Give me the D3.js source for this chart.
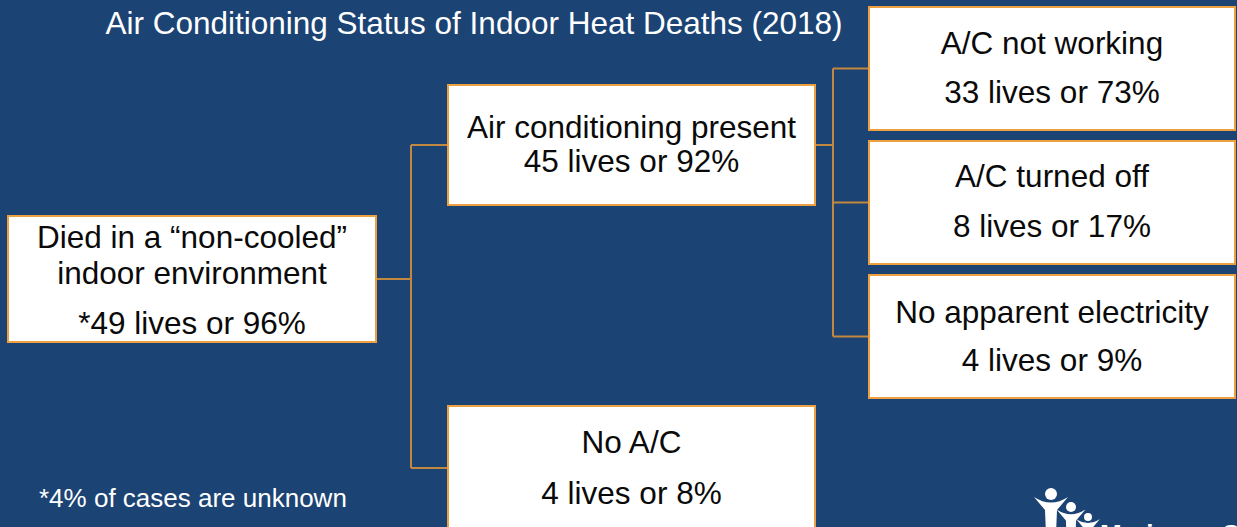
<!DOCTYPE html>
<html><head><meta charset="utf-8">
<script src="https://cdn.jsdelivr.net/npm/d3@7"></script>
<style>html,body{margin:0;padding:0;background:#1b4373;overflow:hidden}</style>
</head><body>
<svg id="c" width="1237" height="527"></svg>
<script>
// ---- data ----
const ids = ["root", "present", "noac", "notworking", "turnedoff", "noelec"];
const parents = [null, "root", "root", "present", "present", "present"];
const categories = [["Died in a \u201cnon-cooled\u201d", "indoor environment"], ["Air conditioning present"], ["No A/C"], ["A/C not working"], ["A/C turned off"], ["No apparent electricity"]];
const lives = [49, 45, 4, 33, 8, 4];
const percents = [96, 92, 8, 73, 17, 9];
const titleText = "Air Conditioning Status of Indoor Heat Deaths (2018)";
const footnote = "*4% of cases are unknown";

// ---- layout ----
const W = 1237, H = 527;
const FONT = "Liberation Sans, Arial, sans-serif";
const svg = d3.select("#c");
svg.append("rect").attr("width", W).attr("height", H).attr("fill", "#1b4373");

const rows = ids.map((id, i) => ({id, parent: parents[i], lines: categories[i], lives: lives[i], pct: percents[i], star: i === 0}));
const root = d3.stratify().id(d => d.id).parentId(d => d.parent)(rows);

const xL = d3.scaleOrdinal().domain([0, 1, 2]).range([8, 448, 869]);
const xW = d3.scaleOrdinal().domain([0, 1, 2]).range([368, 367, 366]);
const yRight = d3.scaleBand().domain(root.children[0].children.map(d => d.id)).range([7, 398]).paddingInner(11 / 134);
const yMid = d3.scaleOrdinal().domain(["present", "noac"]).range([[85, 120], [406, 130]]);
root.each(n => {
  n.bx = xL(n.depth); n.bw = xW(n.depth);
  if (n.depth === 0) { n.by = 216; n.bh = 126; }
  else if (n.depth === 1) { const v = yMid(n.id); n.by = v[0]; n.bh = v[1]; }
  else { n.by = yRight(n.id); n.bh = yRight.bandwidth(); }
});
const anchorY = n => n.id === "root" ? 279 : n.id === "present" ? 145 : n.id === "noac" ? 468 : n.by + n.bh / 2;

const conn = svg.append("g").attr("fill", "none").attr("stroke", "#c2883f").attr("stroke-width", 2);
root.each(n => {
  if (!n.children) return;
  const px = n.bx + n.bw;
  const py = anchorY(n);
  const midX = n.depth === 0 ? 411 : 833;
  const cys = n.children.map(anchorY);
  conn.append("path").attr("d", `M${px},${py}H${midX}`);
  conn.append("path").attr("d", `M${midX},${d3.min(cys)}V${d3.max(cys)}`);
  n.children.forEach((c, i) => conn.append("path").attr("d", `M${midX},${cys[i]}H${c.bx}`));
});

const nodes = svg.append("g").selectAll("g").data(root.descendants()).join("g");
nodes.append("rect")
  .attr("x", d => d.bx).attr("y", d => d.by).attr("width", d => d.bw).attr("height", d => d.bh)
  .attr("fill", "#ffffff").attr("stroke", "#eda03f").attr("stroke-width", 2);

const textBase = {
  root: [248, 284, 334], present: [138, 172], noac: [453, 504],
  notworking: [54, 103], turnedoff: [187, 237], noelec: [323, 371]
};
nodes.each(function (d) {
  const g = d3.select(this);
  const lines = d.data.lines.concat([(d.data.star ? "*" : "") + d.data.lives + " lives or " + d.data.pct + "%"]);
  const ys = textBase[d.id];
  lines.forEach((t, i) => {
    g.append("text").attr("x", d.bx + d.bw / 2).attr("y", ys[i])
      .attr("text-anchor", "middle").attr("font-family", FONT)
      .attr("font-size", 31.5).attr("fill", "#0a0a0a").text(t);
  });
});

svg.append("text").attr("x", 474).attr("y", 34).attr("text-anchor", "middle")
  .attr("font-family", FONT).attr("font-size", 31.5)
  .attr("fill", "#ffffff").text(titleText);
svg.append("text").attr("x", 39).attr("y", 507)
  .attr("font-family", FONT).attr("font-size", 26)
  .attr("fill", "#ffffff").text(footnote);

// logo (partially cut at the bottom edge, as in the reference)
const logo = svg.append("g").attr("fill", "#ffffff");
[[1051, 494, 6, 1], [1071, 507, 5, 0.85], [1088, 517, 4, 0.7]].forEach(([cx, cy, r, s]) => {
  logo.append("circle").attr("cx", cx).attr("cy", cy).attr("r", r);
  logo.append("path").attr("d", `M${cx - 17 * s},${cy + 3 * s} Q${cx},${cy + 14 * s} ${cx + 17 * s},${cy + 3 * s} L${cx + 6 * s},${cy + 16 * s} L${cx + 5 * s},${cy + 40 * s} L${cx - 5 * s},${cy + 40 * s} L${cx - 6 * s},${cy + 16 * s} Z`);
});
logo.append("text").attr("x", 1100).attr("y", 543).attr("font-family", FONT)
  .attr("font-size", 26).attr("font-weight", "bold").text("Maricopa County");
</script>
</body></html>
